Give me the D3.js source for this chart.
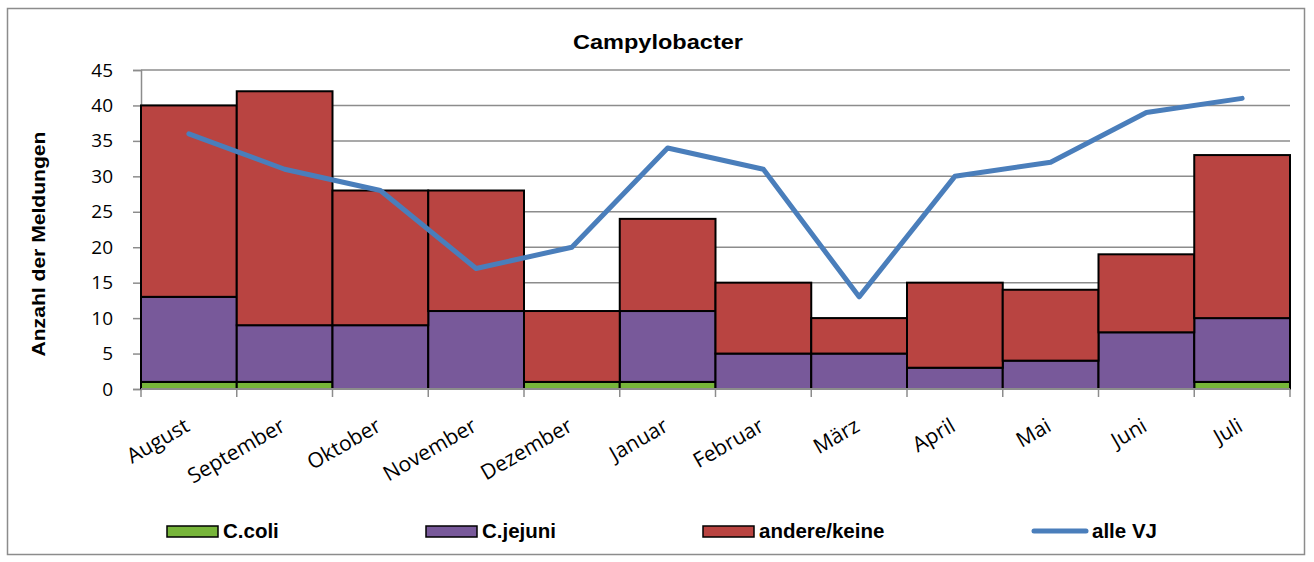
<!DOCTYPE html>
<html>
<head>
<meta charset="utf-8">
<script src="https://cdn.jsdelivr.net/npm/d3@7"></script>
<style>
  body { margin: 0; background: #fff; }
  svg { display: block; }
</style>
</head>
<body>
<div id="chart"></div>
<script>
  var months = ['August', 'September', 'Oktober', 'November', 'Dezember', 'Januar', 'Februar', 'März', 'April', 'Mai', 'Juni', 'Juli'];
  var coli = [1, 1, 0, 0, 1, 1, 0, 0, 0, 0, 0, 1];
  var jejuni = [12, 8, 9, 11, 0, 10, 5, 5, 3, 4, 8, 9];
  var andere = [27, 33, 19, 17, 10, 13, 10, 5, 12, 10, 11, 23];
  var alleVJ = [36, 31, 28, 17, 20, 34, 31, 13, 30, 32, 39, 41];
  var yTicks = [0, 5, 10, 15, 20, 25, 30, 35, 40, 45];

  var seriesNames = ['C.coli', 'C.jejuni', 'andere/keine'];
  var colors = ['#77b53a', '#78599a', '#b94441'];
  var lineColor = '#4a7ebb';
  var grey = '#8c8c8c';

  var W = 1314, H = 562;
  var plotL = 141, plotR = 1290, plotT = 70, plotB = 389;

  var svg = d3.select('#chart').append('svg')
    .attr('width', W)
    .attr('height', H);

  // outer frame
  svg.append('rect')
    .attr('x', 7.5).attr('y', 8.5)
    .attr('width', 1297).attr('height', 546)
    .attr('fill', 'white')
    .attr('stroke', grey)
    .attr('stroke-width', 1.5);

  svg.append('text')
    .attr('x', 573).attr('y', 49)
    .attr('textLength', 170)
    .attr('lengthAdjust', 'spacingAndGlyphs')
    .attr('font-family', 'Liberation Sans, Arial, sans-serif')
    .attr('font-weight', 'bold')
    .attr('font-size', 21)
    .text('Campylobacter');

  var x = d3.scaleBand().domain(months).range([plotL, plotR]).padding(0);
  var y = d3.scaleLinear().domain([0, 45]).range([plotB, plotT]);

  // gridlines
  svg.append('g').selectAll('line')
    .data(yTicks.slice(1))
    .enter().append('line')
    .attr('x1', plotL).attr('x2', plotR)
    .attr('y1', function(d){ return y(d); })
    .attr('y2', function(d){ return y(d); })
    .attr('stroke', grey)
    .attr('stroke-width', 1.5);

  // y axis
  var yAxis = svg.append('g')
    .attr('transform', 'translate(' + plotL + ',0)')
    .call(d3.axisLeft(y).tickValues(yTicks).tickSize(8).tickPadding(20));
  yAxis.select('.domain').attr('stroke', grey).attr('stroke-width', 1.5);
  yAxis.selectAll('.tick line').attr('stroke', grey).attr('stroke-width', 1.5);
  yAxis.selectAll('.tick text')
    .attr('font-family', 'Open Sans, Noto Sans, sans-serif')
    .attr('font-size', 19)
    .attr('fill', '#000');

  svg.append('text')
    .attr('transform', 'translate(45,244) rotate(-90)')
    .attr('text-anchor', 'middle')
    .attr('textLength', 225)
    .attr('lengthAdjust', 'spacingAndGlyphs')
    .attr('font-family', 'Liberation Sans, Arial, sans-serif')
    .attr('font-weight', 'bold')
    .attr('font-size', 18)
    .text('Anzahl der Meldungen');

  // stacked bars
  var table = months.map(function(m, i){
    return { month: m, 'C.coli': coli[i], 'C.jejuni': jejuni[i], 'andere/keine': andere[i] };
  });
  var stack = d3.stack().keys(seriesNames)(table);

  svg.append('g').selectAll('g')
    .data(stack)
    .enter().append('g')
    .attr('fill', function(d, i){ return colors[i]; })
    .selectAll('rect')
    .data(function(d){ return d.filter(function(v){ return v[1] - v[0] > 0; }); })
    .enter().append('rect')
    .attr('x', function(d){ return x(d.data.month); })
    .attr('y', function(d){ return y(d[1]); })
    .attr('width', x.bandwidth())
    .attr('height', function(d){ return y(d[0]) - y(d[1]); })
    .attr('stroke', '#000')
    .attr('stroke-width', 2);

  // x axis
  svg.append('line')
    .attr('x1', plotL).attr('x2', plotR)
    .attr('y1', plotB).attr('y2', plotB)
    .attr('stroke', grey)
    .attr('stroke-width', 2);
  svg.append('g').selectAll('line')
    .data(d3.range(months.length + 1))
    .enter().append('line')
    .attr('x1', function(i){ return plotL + i * x.bandwidth(); })
    .attr('x2', function(i){ return plotL + i * x.bandwidth(); })
    .attr('y1', plotB).attr('y2', plotB + 8)
    .attr('stroke', grey)
    .attr('stroke-width', 1.5);

  svg.append('g').selectAll('text')
    .data(months)
    .enter().append('text')
    .attr('transform', function(d){
      return 'translate(' + (x(d) + x.bandwidth() / 2 + 2) + ',' + (plotB + 41) + ') rotate(-30)';
    })
    .attr('text-anchor', 'end')
    .attr('font-family', 'Open Sans, Noto Sans, sans-serif')
    .attr('font-size', 21)
    .text(function(d){ return d; });

  // line
  var line = d3.line()
    .x(function(d, i){ return x(months[i]) + x.bandwidth() / 2; })
    .y(function(d){ return y(d); });

  svg.append('path')
    .datum(alleVJ)
    .attr('d', line)
    .attr('fill', 'none')
    .attr('stroke', lineColor)
    .attr('stroke-width', 5)
    .attr('stroke-linecap', 'round')
    .attr('stroke-linejoin', 'round');

  // legend
  var legend = svg.append('g');
  var legX = [167, 426, 703];
  seriesNames.forEach(function(name, i){
    legend.append('rect')
      .attr('x', legX[i]).attr('y', 526)
      .attr('width', 51).attr('height', 11)
      .attr('fill', colors[i])
      .attr('stroke', '#000')
      .attr('stroke-width', 1.5);
    legend.append('text')
      .attr('x', legX[i] + 56).attr('y', 538)
      .attr('font-family', 'Liberation Sans, Arial, sans-serif')
      .attr('font-weight', 'bold')
      .attr('font-size', 20.5)
      .text(name);
  });
  legend.append('line')
    .attr('x1', 1034).attr('x2', 1086)
    .attr('y1', 531).attr('y2', 531)
    .attr('stroke', lineColor)
    .attr('stroke-width', 5)
    .attr('stroke-linecap', 'round');
  legend.append('text')
    .attr('x', 1092).attr('y', 538)
    .attr('font-family', 'Liberation Sans, Arial, sans-serif')
    .attr('font-weight', 'bold')
    .attr('font-size', 20.5)
    .text('alle VJ');
</script>
</body>
</html>
